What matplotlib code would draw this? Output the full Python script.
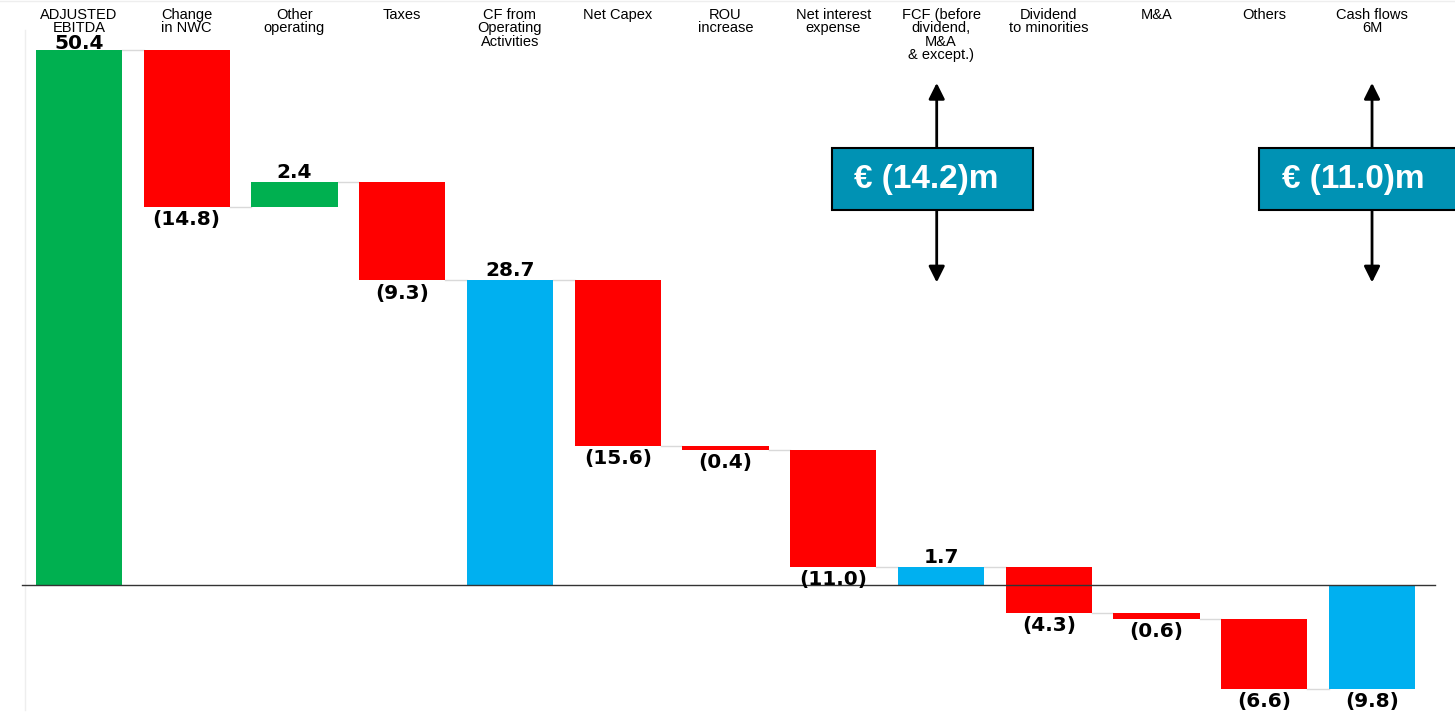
import numpy as np
import matplotlib
matplotlib.use("Agg")
import matplotlib.pyplot as plt
from matplotlib.patches import Rectangle

# Dati del waterfall (milioni di euro)
categories = ["ADJUSTED\nEBITDA", "Change\nin NWC", "Other\noperating", "Taxes",
              "CF from\nOperating\nActivities", "Net Capex", "ROU\nincrease",
              "Net interest\nexpense", "FCF (before\ndividend,\nM&A\n& except.)",
              "Dividend\nto minorities", "M&A", "Others", "Cash flows\n6M"]
values = [50.4, -14.8, 2.4, -9.3, 28.7, -15.6, -0.4, -11.0, 1.7, -4.3, -0.6, -6.6, -9.8]
is_total = [True, False, False, False, True, False, False, False, True, False, False, False, True]
labels = ["50.4", "(14.8)", "2.4", "(9.3)", "28.7", "(15.6)", "(0.4)", "(11.0)",
          "1.7", "(4.3)", "(0.6)", "(6.6)", "(9.8)"]
callouts = ["€ (14.2)m", "€ (11.0)m"]
callout_idx = [8, 12]

GREEN = "#00B050"
RED = "#FF0000"
BLUE = "#00B0F0"
TEAL = "#0092B4"

fig = plt.figure(figsize=(14.55, 7.2), dpi=100)
ax = fig.add_axes([0, 0, 1, 1])
ax.set_xlim(-0.733, 12.77)
ax.set_ylim(-12.72, 55.11)
ax.axis("off")

# Calcolo basi e altezze
bottoms, heights, colors = [], [], []
level = 0.0
for i, v in enumerate(values):
    if is_total[i]:
        bottoms.append(0.0); heights.append(v)
        colors.append(GREEN if i == 0 else BLUE)
        level = v
    else:
        bottoms.append(level); heights.append(v)
        colors.append(GREEN if v > 0 else RED)
        level += v

x = np.arange(len(values))
w = 0.8
ax.bar(x, heights, bottom=bottoms, width=w, color=colors, edgecolor="none", zorder=2)

# Connettori
for i in range(len(values) - 1):
    top = bottoms[i] + heights[i]
    ax.plot([x[i] + w / 2, x[i + 1] - w / 2], [top, top], color="#d9d9d9", lw=1, zorder=1)

# Linea dello zero e asse sinistro sfumato
ax.axhline(0, xmin=0.015, xmax=0.986, color="#333333", lw=1, zorder=3)
ax.axvline(-0.5, ymin=0.014, ymax=0.958, color="#eeeeee", lw=1, zorder=0)
ax.axhline(55.0, color="#eeeeee", lw=1, zorder=0)

# Etichette dei valori
for i, v in enumerate(values):
    b, h = bottoms[i], heights[i]
    if h > 0:
        off = 0.1 if i == 0 else 0.38
        y, va = b + h + off, "baseline"
    else:
        y, va = b + h - 0.3, "top"
    ax.text(x[i], y, labels[i], ha="center", va=va, fontsize=14.5, fontweight="bold",
            family="DejaVu Sans", color="black", zorder=4)

# Categorie in alto
trans = ax.get_xaxis_transform()
for i, c in enumerate(categories):
    ax.text(x[i], 0.989, c, transform=trans, ha="center", va="top", fontsize=10.5,
            family="Liberation Sans", linespacing=0.95)

# Box con frecce
for j, idx in enumerate(callout_idx):
    cx = x[idx] - 0.04 if j == 0 else x[idx]
    box_l = cx - 0.97 if j == 0 else cx - 1.05
    ax.add_patch(Rectangle((box_l, 35.33), 1.865, 5.84, facecolor=TEAL,
                           edgecolor="black", lw=1.5, zorder=5))
    ax.text(box_l + 1.865 / 2 - 0.06, 38.2, callouts[j], ha="center", va="center",
            fontsize=24, fontweight="bold", color="white", family="Liberation Sans", zorder=6)
    ax.annotate("", xy=(cx, 47.3), xytext=(cx, 41.17),
                arrowprops=dict(arrowstyle="-|>", color="black", lw=2, mutation_scale=24,
                                shrinkA=0, shrinkB=0))
    ax.annotate("", xy=(cx, 28.5), xytext=(cx, 35.33),
                arrowprops=dict(arrowstyle="-|>", color="black", lw=2, mutation_scale=24,
                                shrinkA=0, shrinkB=0))

fig.savefig("out.png", dpi=100)
